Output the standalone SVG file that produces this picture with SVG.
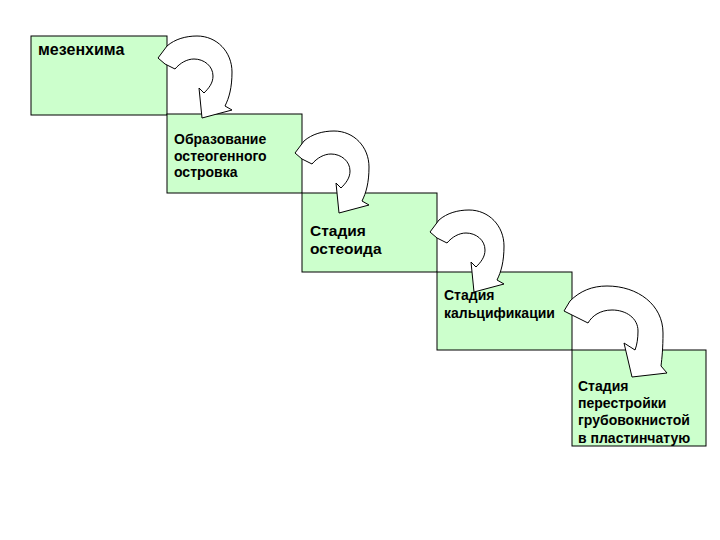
<svg xmlns="http://www.w3.org/2000/svg" width="720" height="540" viewBox="0 0 720 540">
<style>
.box{fill:#ccffcc;stroke:#000;stroke-width:1}
.arr{fill:#fff;stroke:#000;stroke-width:1;stroke-linejoin:miter}
text{font-family:"Liberation Sans",Arial,sans-serif;font-weight:bold;fill:#000}
</style>
<defs>
<path id="carrow" d="M158,58 L167,46 C175,39 186,36 197,36 C217,36 232,52 232,72 C232,88 229,98 225,106 L232,110 L202,118 L199,88 L204,93 C209,88 213,83 213,76 C213,66 204,59 194,59 C187,59 180,63 175,69 L165,64 Z"/>
</defs>
<rect width="720" height="540" fill="#fff"/>
<g id="node1">
<rect class="box" x="31" y="36" width="136" height="79"/>
<text x="38" y="55" font-size="16">мезенхима</text>
</g>
<g id="node2">
<rect class="box" x="167" y="114" width="135" height="79"/>
<text x="174" y="144" font-size="14">Образование</text>
<text x="174" y="161" font-size="14">остеогенного</text>
<text x="174" y="177" font-size="14">островка</text>
</g>
<g id="node3">
<rect class="box" x="302" y="193" width="135" height="79"/>
<text x="310" y="236" font-size="15.5">Стадия</text>
<text x="310" y="254" font-size="15.5">остеоида</text>
</g>
<g id="node4">
<rect class="box" x="437" y="272" width="135" height="78"/>
<text x="444" y="300" font-size="14">Стадия</text>
<text x="444" y="318" font-size="14">кальцификации</text>
</g>
<g id="node5">
<rect class="box" x="572" y="350" width="134" height="96"/>
<text x="578" y="391" font-size="14">Стадия</text>
<text x="578" y="408" font-size="14">перестройки</text>
<text x="578" y="425" font-size="14">грубовокнистой</text>
<text x="578" y="443" font-size="14">в пластинчатую</text>
</g>
<g id="connectors">
<use href="#carrow" class="arr"/>
<use href="#carrow" class="arr" transform="translate(137,95)"/>
<use href="#carrow" class="arr" transform="translate(272,174)"/>
<path class="arr" d="M564,311 L570,301 C580,291 592,286 607,286 C638,286 663,305 663,333 C663,348 662,358 661,366 L667,373 L632,377 L624,343 L635,350 C637,345 638,338 638,331 C638,318 626,310 612,310 C600,310 592,316 588,323 Z"/>
</g>
</svg>
